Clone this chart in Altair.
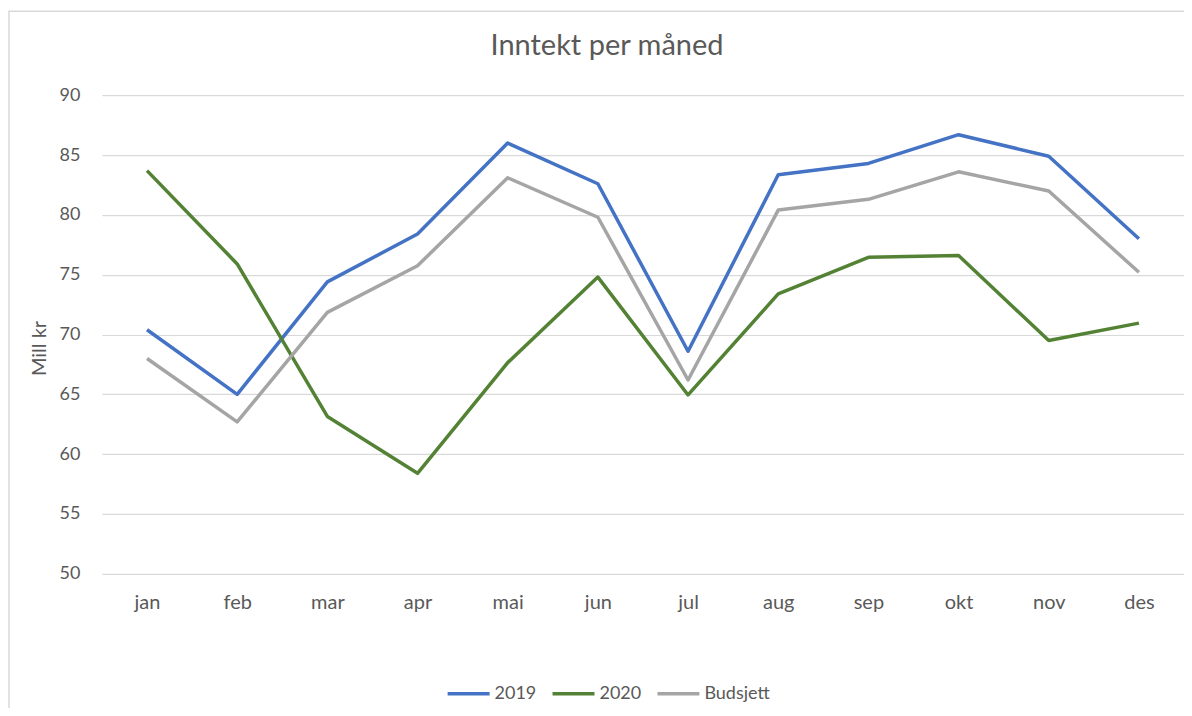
import altair as alt
import pandas as pd

months = ["jan", "feb", "mar", "apr", "mai", "jun", "jul", "aug", "sep", "okt", "nov", "des"]
series_names = ["2019", "2020", "Budsjett"]
v2019 = [70.4, 65.0, 74.4, 78.4, 86.0, 82.6, 68.6, 83.35, 84.3, 86.7, 84.9, 78.0]
v2020 = [83.7, 75.9, 63.15, 58.4, 67.65, 74.8, 64.95, 73.4, 76.45, 76.6, 69.5, 70.95]
vbud = [68.0, 62.7, 71.85, 75.75, 83.1, 79.8, 66.2, 80.4, 81.3, 83.6, 82.0, 75.2]
colors = ["#4472C4", "#548235", "#A5A5A5"]
y_ticks = [50, 55, 60, 65, 70, 75, 80, 85, 90]

rows = []
for name, vals in zip(series_names, [v2019, v2020, vbud]):
    for m, v in zip(months, vals):
        rows.append({"Måned": m, "Serie": name, "Verdi": v})
df = pd.DataFrame(rows)

FONT = "Lato"
TXT = "#595959"

frame = alt.Chart(pd.DataFrame({"a": [0]})).mark_rect(
    fill="white", fillOpacity=0, stroke="#d9d9d9", strokeWidth=1.5
).encode(
    x=alt.value(-93), x2=alt.value(1100), y=alt.value(-84), y2=alt.value(640)
)

lines = alt.Chart(df).mark_line(strokeWidth=3.5, strokeJoin="round").encode(
    x=alt.X("Måned:N", sort=months, scale=alt.Scale(padding=0.5),
            axis=alt.Axis(title=None, labelAngle=0, ticks=False, domain=False,
                          labelPadding=19, labelFontSize=20, labelColor=TXT,
                          labelFont=FONT, grid=False)),
    y=alt.Y("Verdi:Q", scale=alt.Scale(domain=[50, 90], nice=False, zero=False),
            axis=alt.Axis(title="Mill kr", values=y_ticks, ticks=False, domain=False,
                          labelPadding=22, labelFontSize=18, labelColor=TXT,
                          labelFont=FONT, gridColor="#d9d9d9", gridWidth=1.2,
                          titleFont=FONT, titleFontSize=20, titleFontWeight="normal",
                          titleColor=TXT, titleX=-62, titleY=253,
                          titleAlign="center", titleBaseline="middle")),
    color=alt.Color("Serie:N", sort=series_names,
                    scale=alt.Scale(domain=series_names, range=colors),
                    legend=alt.Legend(title=None, orient="none", direction="horizontal",
                                      legendX=344, legendY=576, symbolType="stroke",
                                      symbolSize=1764, symbolStrokeWidth=3.5,
                                      labelFontSize=18, labelColor=TXT, labelFont=FONT,
                                      labelOffset=3, columnPadding=9, padding=0)),
)

chart = alt.layer(frame, lines).properties(
    width=1083,
    height=479,
    padding={"left": 94, "top": 87, "right": 0, "bottom": 134},
    autosize=alt.AutoSizeParams(type="none"),
    title=alt.TitleParams(
        text="Inntekt per måned", font=FONT, fontSize=29, fontWeight="normal",
        color=TXT, anchor="middle", frame="group", dx=-36, offset=-73,
        baseline="alphabetic",
    ),
).configure_view(stroke=None)

chart.save("out.html", embed_options={"renderer": "svg", "actions": False})
